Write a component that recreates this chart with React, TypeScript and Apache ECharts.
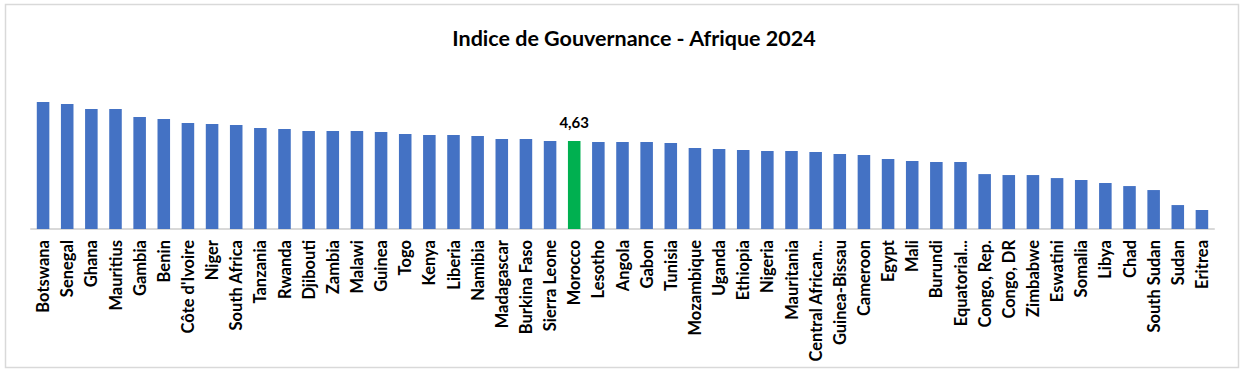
import React, { useEffect, useRef } from "react";
import * as echarts from "echarts";

const countries = [
  "Botswana", "Senegal", "Ghana", "Mauritius", "Gambia", "Benin", "Côte d'Ivoire", "Niger",
  "South Africa", "Tanzania", "Rwanda", "Djibouti", "Zambia", "Malawi", "Guinea", "Togo",
  "Kenya", "Liberia", "Namibia", "Madagascar", "Burkina Faso", "Sierra Leone", "Morocco",
  "Lesotho", "Angola", "Gabon", "Tunisia", "Mozambique", "Uganda", "Ethiopia", "Nigeria",
  "Mauritania", "Central African...", "Guinea-Bissau", "Cameroon", "Egypt", "Mali",
  "Burundi", "Equatorial...", "Congo, Rep.", "Congo, DR", "Zimbabwe", "Eswatini",
  "Somalia", "Libya", "Chad", "South Sudan", "Sudan", "Eritrea",
];

const scores = [
  6.68, 6.58, 6.31, 6.31, 5.89, 5.79, 5.58, 5.53,
  5.47, 5.32, 5.26, 5.16, 5.16, 5.16, 5.11, 5.0,
  4.95, 4.95, 4.89, 4.74, 4.74, 4.63, 4.63,
  4.58, 4.58, 4.58, 4.53, 4.26, 4.21, 4.16, 4.11,
  4.11, 4.05, 3.95, 3.89, 3.68, 3.58,
  3.53, 3.53, 2.89, 2.84, 2.84, 2.68,
  2.58, 2.42, 2.26, 2.05, 1.26, 1.0,
];

const highlightCountry = "Morocco";
const titleText = "Indice de Gouvernance - Afrique 2024";

const FONT = "Lato, 'Open Sans', sans-serif";

export default function App() {
  const ref = useRef<HTMLDivElement>(null);

  useEffect(() => {
    document.body.style.margin = "0";
    if (!ref.current) return;
    const chart = echarts.init(ref.current, null, { renderer: "svg" });
    const data = scores.map((v, i) => {
      const isHL = countries[i] === highlightCountry;
      return {
        value: v,
        itemStyle: { color: isHL ? "#00b050" : "#4472c4" },
        label: isHL
          ? {
              show: true,
              position: "top",
              distance: 12,
              formatter: (p: any) => Number(p.value).toFixed(2).replace(".", ","),
              fontFamily: FONT,
              fontWeight: "bold",
              fontSize: 15,
              color: "#000",
            }
          : { show: false },
      };
    });
    chart.setOption({
      animation: false,
      backgroundColor: "#fff",
      title: {
        text: titleText,
        left: 629,
        textAlign: "center",
        top: 22,
        textStyle: { fontFamily: FONT, fontWeight: "bold", fontSize: 21.5, color: "#000" },
      },
      graphic: [
        {
          type: "rect",
          shape: { x: 5.5, y: 4.5, width: 1233, height: 363 },
          style: { fill: "none", stroke: "#d9d9d9", lineWidth: 1.5 },
          silent: true,
        },
      ],
      grid: {
        left: 31,
        right: 31,
        top: 96,
        bottom: 143,
        containLabel: false,
        outerBoundsMode: "none",
      },
      xAxis: {
        type: "category",
        data: countries,
        axisLine: { show: true, lineStyle: { color: "#d9d9d9", width: 2 } },
        axisTick: { show: false },
        axisLabel: {
          interval: 0,
          rotate: 90,
          margin: 11,
          fontFamily: FONT,
          fontWeight: "bold",
          fontSize: 16.5,
          color: "#000",
        },
      },
      yAxis: {
        type: "value",
        min: 0,
        max: 7,
        show: false,
        splitLine: { show: false },
      },
      series: [
        {
          type: "bar",
          data,
          barWidth: "52%",
        },
      ],
    });
    return () => chart.dispose();
  }, []);

  return <div ref={ref} style={{ width: 1245, height: 372 }} />;
}
